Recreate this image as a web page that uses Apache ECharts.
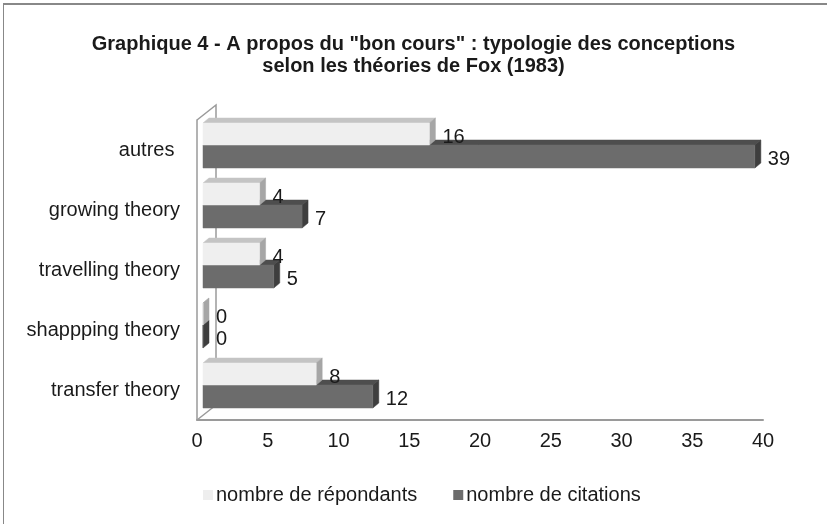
<!DOCTYPE html>
<html>
<head>
<meta charset="utf-8">
<script src="https://cdn.jsdelivr.net/npm/echarts@6/dist/echarts.min.js"></script>
<style>html,body{margin:0;padding:0;background:#fff;}#c{width:827px;height:524px;}</style>
</head>
<body>
<div id="c"></div>
<script>
var categories = ['autres ', 'growing theory', 'travelling theory', 'shappping theory', 'transfer theory'];
var repondants = [16, 4, 4, 0, 8];
var citations = [39, 7, 5, 0, 12];
var seriesNames = ['nombre de répondants', 'nombre de citations'];

var FONT = '"Liberation Sans", Arial, sans-serif';
var DX = 6, DY = -5, SHIFT = 6;

function makeRender(top, h, front, topC, right) {
  return function (params, api) {
    var cat = api.value(1), v = api.value(0);
    var p0 = api.coord([0, cat]), p1 = api.coord([v, cat]);
    var x0 = p0[0] + SHIFT, x1 = p1[0] + SHIFT;
    var y0 = p0[1] + top, y1 = y0 + h;
    return {
      type: 'group',
      children: [
        { type: 'polygon', shape: { points: [[x0, y0], [x1, y0], [x1 + DX, y0 + DY], [x0 + DX, y0 + DY]] },
          style: { fill: topC, stroke: topC, lineWidth: 0.5 } },
        { type: 'polygon', shape: { points: [[x1, y0], [x1 + DX, y0 + DY], [x1 + DX, y1 + DY], [x1, y1]] },
          style: { fill: right, stroke: right, lineWidth: 0.5 } },
        { type: 'rect', shape: { x: x0, y: y0, width: Math.max(0, x1 - x0), height: h },
          style: { fill: front, stroke: front, lineWidth: 0.5 } },
        { type: 'text', style: { text: String(v), x: x1 + DX + 7, y: (y0 + y1) / 2 + 3, align: 'left',
          verticalAlign: 'middle', fontSize: 20, fontFamily: FONT, fill: '#1a1a1a' } }
      ]
    };
  };
}

var chart = echarts.init(document.getElementById('c'));
var gl = 197, gt = 120, gb = 420;
chart.setOption({
  animation: false,
  backgroundColor: '#ffffff',
  title: {
    text: 'Graphique 4 - A propos du "bon cours" : typologie des conceptions\nselon les théories de Fox (1983)',
    left: 'center', top: 28,
    textStyle: { fontFamily: FONT, fontSize: 20, fontWeight: 'bold', color: '#1a1a1a', lineHeight: 22 }
  },
  legend: {
    data: seriesNames, left: 198, top: 480, icon: 'rect', itemWidth: 10, itemHeight: 10, itemGap: 36,
    textStyle: { fontFamily: FONT, fontSize: 20, color: '#1a1a1a', padding: [0, 0, 0, -2] }
  },
  grid: { left: gl, right: 64, top: gt, bottom: 524 - gb },
  xAxis: {
    type: 'value', min: 0, max: 40, interval: 5,
    axisLine: { show: true, lineStyle: { color: '#9a9a9a', width: 2 } },
    axisTick: { show: false }, splitLine: { show: false },
    axisLabel: { fontFamily: FONT, fontSize: 20, color: '#1a1a1a', margin: 11 }
  },
  yAxis: {
    type: 'category', data: categories, inverse: true,
    axisLine: { show: true, lineStyle: { color: '#9a9a9a', width: 1.5 } },
    axisTick: { show: false },
    axisLabel: { fontFamily: FONT, fontSize: 20, color: '#1a1a1a', margin: 17 }
  },
  graphic: [
    { type: 'polyline', z: 1, shape: { points: [[gl, gt], [gl + 19, gt - 15], [gl + 19, gb - 15], [gl, gb]] },
      style: { stroke: '#9a9a9a', lineWidth: 1.5, fill: null } }
  ],
  series: [
    { type: 'custom', name: seriesNames[1], z: 3, itemStyle: { color: '#6c6c6c' },
      renderItem: makeRender(-5, 23, '#6c6c6c', '#4e4e4e', '#3e3e3e'),
      data: citations.map(function (v, i) { return [v, i]; }) },
    { type: 'custom', name: seriesNames[0], z: 4, itemStyle: { color: '#eeeeee' },
      renderItem: makeRender(-27, 22, '#efefef', '#c4c4c4', '#a6a6a6'),
      data: repondants.map(function (v, i) { return [v, i]; }) }
  ]
});
</script>
<div style="position:absolute;left:3px;top:3px;width:830px;height:530px;border-left:1.5px solid #888;border-top:2px solid #888;pointer-events:none;"></div>
</body>
</html>
